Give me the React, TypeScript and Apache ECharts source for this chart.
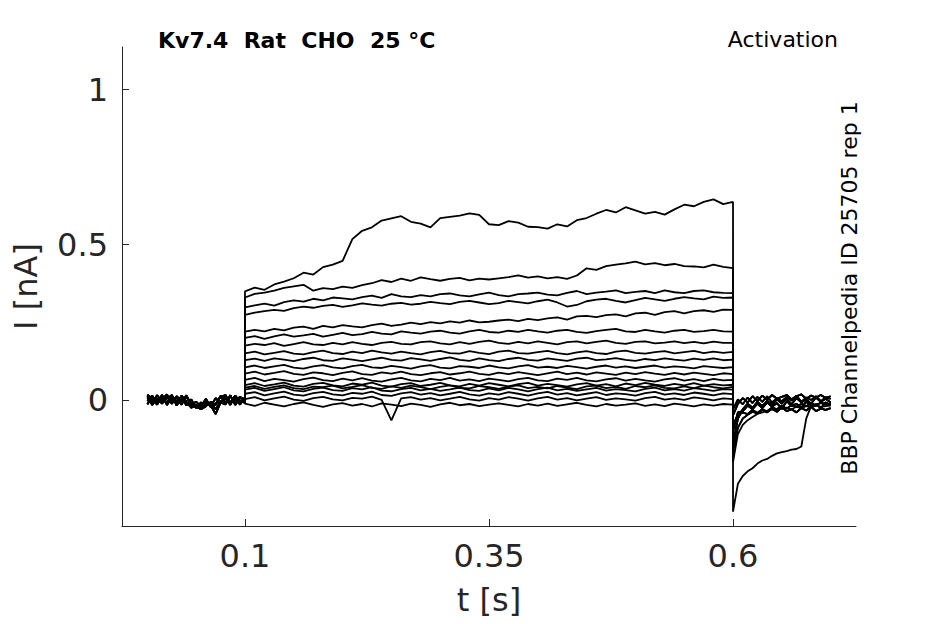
import React, { useEffect, useRef } from "react";
import * as echarts from "echarts";

const baseTimes = [0, 0.005, 0.01, 0.015, 0.02, 0.025, 0.03, 0.035, 0.04, 0.045, 0.05, 0.055, 0.06, 0.065, 0.07, 0.075, 0.08, 0.085, 0.09, 0.095, 0.1];
const stepTimes = [
  0.1, 0.11, 0.12, 0.13, 0.14, 0.15, 0.16, 0.17, 0.18, 0.19,
  0.2, 0.21, 0.22, 0.23, 0.24, 0.25, 0.26, 0.27, 0.28, 0.29,
  0.3, 0.31, 0.32, 0.33, 0.34, 0.35, 0.36, 0.37, 0.38, 0.39,
  0.4, 0.41, 0.42, 0.43, 0.44, 0.45, 0.46, 0.47, 0.48, 0.49,
  0.5, 0.51, 0.52, 0.53, 0.54, 0.55, 0.56, 0.57, 0.58, 0.59,
  0.6,
];
const tailTimes = [0.6, 0.605, 0.61, 0.615, 0.62, 0.625, 0.63, 0.635, 0.64, 0.645, 0.65, 0.655, 0.66, 0.665, 0.67, 0.675, 0.68, 0.685, 0.69, 0.695, 0.7];

const xTicks = [0.1, 0.35, 0.6];
const yTicks = [0, 0.5, 1];

// holding-period baselines (before the step)
const baseA = [0.012, -0.01, 0.015, -0.006, 0.014, -0.012, 0.008, -0.015, 0.011, -0.018, -0.022, -0.012, -0.004, -0.02, 0.006, -0.01, 0.012, -0.008, 0.014, -0.009, 0.006];
const baseB = [-0.014, 0.01, -0.008, 0.016, -0.016, 0.008, -0.012, 0.014, -0.006, -0.025, -0.016, -0.028, -0.012, -0.018, -0.045, -0.008, -0.014, 0.012, -0.007, 0.011, -0.008];
const baseC = [0.017, 0.004, -0.015, 0.01, -0.009, 0.016, -0.018, 0.007, -0.014, -0.01, -0.022, -0.03, -0.02, -0.006, -0.016, 0.013, -0.01, 0.015, -0.016, 0.008, 0.002];
const baseD = [-0.004, 0.014, -0.012, 0.003, 0.018, -0.008, 0.012, -0.004, 0.015, -0.014, -0.006, -0.02, 0.004, -0.024, -0.012, 0.01, 0.016, -0.012, 0.006, -0.015, 0.009];
const baseE = [0.008, -0.016, 0.004, -0.012, 0.006, 0.014, -0.006, 0.01, -0.018, 0.002, -0.026, -0.008, -0.018, -0.01, -0.03, -0.004, 0.004, -0.016, 0.012, -0.002, -0.01];

// step currents (0.1 .. 0.6 s)
const step1 = [
  0.35, 0.362, 0.355, 0.372, 0.381, 0.392, 0.41, 0.404, 0.428, 0.436,
  0.448, 0.518, 0.545, 0.556, 0.578, 0.585, 0.592, 0.574, 0.568, 0.556,
  0.586, 0.59, 0.594, 0.601, 0.596, 0.566, 0.563, 0.576, 0.571, 0.558,
  0.557, 0.552, 0.566, 0.559, 0.579, 0.586, 0.6, 0.612, 0.604, 0.621,
  0.611, 0.6, 0.606, 0.597, 0.614, 0.629, 0.624, 0.638, 0.646, 0.631,
  0.638,
];
const step2 = [
  0.33, 0.342, 0.346, 0.352, 0.361, 0.366, 0.371, 0.352, 0.36, 0.357,
  0.365, 0.361, 0.37, 0.376, 0.386, 0.38, 0.391, 0.384, 0.395, 0.389,
  0.384, 0.39, 0.393, 0.385, 0.391, 0.388, 0.392, 0.396, 0.401, 0.394,
  0.398, 0.392, 0.396, 0.39, 0.401, 0.424, 0.419, 0.431, 0.436, 0.44,
  0.446, 0.437, 0.441, 0.434, 0.438, 0.431, 0.43, 0.427, 0.436, 0.429,
  0.425,
];
const step3 = [
  0.298, 0.305, 0.31, 0.304, 0.315, 0.321, 0.317, 0.326, 0.321, 0.33,
  0.327, 0.324, 0.331, 0.336, 0.329, 0.341, 0.334, 0.331, 0.338, 0.334,
  0.341, 0.343, 0.337, 0.334, 0.34, 0.346, 0.338, 0.334, 0.341, 0.343,
  0.346, 0.339, 0.337, 0.345, 0.351, 0.341, 0.346, 0.349, 0.353, 0.344,
  0.348, 0.351, 0.344, 0.353, 0.347, 0.344, 0.351, 0.353, 0.347, 0.345,
  0.344,
];
const step4 = [
  0.274, 0.281, 0.286, 0.29, 0.287, 0.296, 0.301, 0.297, 0.303, 0.306,
  0.3, 0.305, 0.311, 0.307, 0.304, 0.31, 0.313, 0.307, 0.31, 0.316,
  0.312, 0.309, 0.316, 0.319, 0.314, 0.309, 0.312, 0.319, 0.315, 0.311,
  0.318, 0.323, 0.314, 0.301, 0.306, 0.318, 0.323, 0.326, 0.319, 0.314,
  0.322, 0.329, 0.324, 0.319, 0.326, 0.331, 0.327, 0.324, 0.333, 0.329,
  0.33,
];
const step5 = [
  0.22, 0.226, 0.221, 0.229, 0.224, 0.233, 0.236, 0.229, 0.239, 0.234,
  0.241, 0.237, 0.234, 0.241, 0.246, 0.239, 0.243, 0.249, 0.244, 0.251,
  0.247, 0.253, 0.249, 0.256, 0.25, 0.252, 0.256, 0.259, 0.254, 0.261,
  0.257, 0.263, 0.266, 0.259, 0.269, 0.271, 0.267, 0.273, 0.276, 0.269,
  0.279, 0.281, 0.274, 0.283, 0.286, 0.279, 0.286, 0.289, 0.284, 0.291,
  0.29,
];
const step6 = [
  0.2, 0.206, 0.197, 0.205, 0.211, 0.204, 0.208, 0.213, 0.204, 0.21,
  0.216, 0.209, 0.212, 0.219, 0.214, 0.211, 0.221, 0.217, 0.214, 0.22,
  0.223, 0.217, 0.214, 0.221, 0.226, 0.219, 0.217, 0.223, 0.219, 0.226,
  0.221, 0.217, 0.223, 0.226, 0.219, 0.216, 0.222, 0.226, 0.229, 0.221,
  0.219, 0.226, 0.221, 0.217, 0.223, 0.226, 0.219, 0.222, 0.226, 0.221,
  0.22,
];
const step7 = [
  0.175, 0.181, 0.177, 0.183, 0.174, 0.18, 0.186, 0.179, 0.177, 0.184,
  0.179, 0.186, 0.181, 0.177, 0.184, 0.187, 0.181, 0.179, 0.186, 0.189,
  0.182, 0.179, 0.186, 0.181, 0.187, 0.191, 0.184, 0.181, 0.187, 0.182,
  0.189, 0.184, 0.179, 0.186, 0.189, 0.182, 0.187, 0.191, 0.184, 0.181,
  0.187, 0.189, 0.182, 0.185, 0.189, 0.183, 0.187, 0.182, 0.188, 0.184,
  0.184,
];
const step8 = [
  0.15, 0.156, 0.147, 0.152, 0.157, 0.149, 0.147, 0.154, 0.159, 0.151,
  0.148, 0.156, 0.151, 0.159, 0.153, 0.149, 0.156, 0.151, 0.147, 0.154,
  0.158, 0.151, 0.149, 0.157, 0.152, 0.148, 0.156, 0.159, 0.151, 0.149,
  0.154, 0.158, 0.151, 0.147, 0.153, 0.157, 0.151, 0.148, 0.156, 0.159,
  0.152, 0.149, 0.154, 0.157, 0.15, 0.154, 0.158, 0.151, 0.156, 0.152,
  0.155,
];
const step9 = [
  0.128, 0.133, 0.126, 0.134, 0.13, 0.125, 0.132, 0.136, 0.128, 0.126,
  0.134, 0.13, 0.125, 0.131, 0.136, 0.129, 0.127, 0.135, 0.131, 0.126,
  0.132, 0.137, 0.129, 0.126, 0.134, 0.128, 0.125, 0.132, 0.136, 0.129,
  0.127, 0.134, 0.13, 0.126, 0.133, 0.136, 0.128, 0.131, 0.135, 0.129,
  0.126, 0.132, 0.128, 0.134, 0.13, 0.127, 0.133, 0.129, 0.134, 0.128,
  0.13,
];
const step10 = [
  0.105, 0.111, 0.103, 0.108, 0.113, 0.104, 0.101, 0.108, 0.112, 0.105,
  0.102, 0.109, 0.113, 0.105, 0.103, 0.11, 0.106, 0.101, 0.108, 0.112,
  0.104, 0.102, 0.109, 0.107, 0.103, 0.111, 0.105, 0.102, 0.108, 0.112,
  0.104, 0.107, 0.103, 0.11, 0.106, 0.101, 0.107, 0.111, 0.104, 0.108,
  0.103, 0.107, 0.111, 0.104, 0.108, 0.106, 0.102, 0.109, 0.106, 0.103,
  0.106,
];
const step11 = [
  0.085, 0.091, 0.082, 0.087, 0.093, 0.084, 0.081, 0.089, 0.086, 0.08,
  0.087, 0.092, 0.083, 0.081, 0.089, 0.085, 0.091, 0.083, 0.08, 0.086,
  0.09, 0.082, 0.086, 0.091, 0.084, 0.081, 0.088, 0.083, 0.09, 0.085,
  0.08, 0.086, 0.091, 0.083, 0.088, 0.082, 0.089, 0.085, 0.081, 0.088,
  0.083, 0.09, 0.085, 0.081, 0.087, 0.082, 0.088, 0.084, 0.08, 0.086,
  0.083,
];
const step12 = [
  0.065, 0.071, 0.061, 0.068, 0.064, 0.059, 0.067, 0.072, 0.064, 0.061,
  0.069, 0.063, 0.07, 0.062, 0.059, 0.066, 0.071, 0.063, 0.06, 0.068,
  0.064, 0.071, 0.062, 0.066, 0.061, 0.069, 0.065, 0.06, 0.067, 0.071,
  0.063, 0.061, 0.069, 0.065, 0.071, 0.063, 0.06, 0.066, 0.07, 0.062,
  0.068, 0.063, 0.059, 0.066, 0.07, 0.062, 0.067, 0.061, 0.068, 0.063,
  0.065,
];
const step13 = [
  0.048, 0.054, 0.045, 0.05, 0.056, 0.046, 0.043, 0.052, 0.055, 0.047,
  0.044, 0.053, 0.049, 0.056, 0.046, 0.043, 0.051, 0.054, 0.045, 0.049,
  0.055, 0.047, 0.044, 0.052, 0.046, 0.054, 0.049, 0.044, 0.051, 0.055,
  0.046, 0.052, 0.048, 0.043, 0.05, 0.054, 0.046, 0.051, 0.044, 0.053,
  0.048, 0.055, 0.049, 0.045, 0.052, 0.047, 0.054, 0.046, 0.051, 0.047,
  0.049,
];
const step14 = [
  0.033, 0.039, 0.029, 0.035, 0.041, 0.031, 0.028, 0.036, 0.04, 0.032,
  0.029, 0.038, 0.034, 0.041, 0.03, 0.028, 0.035, 0.039, 0.031, 0.036,
  0.029, 0.034, 0.04, 0.032, 0.029, 0.037, 0.031, 0.039, 0.034, 0.028,
  0.035, 0.04, 0.031, 0.036, 0.029, 0.034, 0.039, 0.03, 0.035, 0.032,
  0.028, 0.036, 0.04, 0.031, 0.035, 0.03, 0.038, 0.034, 0.029, 0.035,
  0.033,
];
const step15 = [
  0.02, 0.025, 0.015, 0.021, 0.027, 0.017, 0.014, 0.022, 0.026, 0.018,
  0.015, 0.023, 0.02, 0.027, 0.016, 0.013, 0.021, 0.025, 0.017, 0.022,
  0.015, 0.02, 0.026, 0.018, 0.014, 0.021, 0.017, 0.025, 0.02, 0.014,
  0.021, 0.026, 0.017, 0.022, 0.015, 0.02, 0.025, 0.016, 0.021, 0.019,
  0.014, 0.022, 0.026, 0.017, 0.021, 0.016, 0.024, 0.02, 0.015, 0.021,
  0.019,
];
const step16 = [
  0.003, 0.009, -0.001, 0.005, 0.011, 0.001, -0.003, 0.006, 0.01, 0.002,
  -0.001, 0.007, 0.004, 0.011, 0.0, -0.066, 0.005, 0.009, 0.001, 0.006,
  -0.001, 0.004, 0.01, 0.002, -0.002, 0.006, 0.001, 0.009, 0.004, -0.002,
  0.005, 0.01, 0.001, 0.006, -0.001, 0.004, 0.009, 0.0, 0.005, 0.002,
  -0.002, 0.006, 0.01, 0.001, 0.005, 0.0, 0.008, 0.004, -0.001, 0.005,
  0.003,
];
const step17 = [
  -0.012, -0.019, -0.009, -0.015, -0.021, -0.013, -0.008, -0.016, -0.022, -0.014,
  -0.01, -0.018, -0.013, -0.021, -0.011, -0.015, -0.02, -0.012, -0.016, -0.022,
  -0.014, -0.009, -0.017, -0.013, -0.02, -0.015, -0.011, -0.016, -0.021, -0.013,
  -0.018, -0.012, -0.019, -0.014, -0.009, -0.016, -0.021, -0.013, -0.018, -0.015,
  -0.011, -0.019, -0.014, -0.02, -0.012, -0.016, -0.021, -0.014, -0.018, -0.013,
  -0.015,
];
const step18 = [
  0.04, 0.045, 0.036, 0.042, 0.047, 0.038, 0.035, 0.043, 0.041, 0.046,
  0.037, 0.042, 0.048, 0.039, 0.036, 0.044, 0.039, 0.046, 0.041, 0.035,
  0.042, 0.047, 0.039, 0.037, 0.045, 0.041, 0.036, 0.043, 0.047, 0.038,
  0.042, 0.037, 0.045, 0.04, 0.035, 0.044, 0.046, 0.038, 0.042, 0.036,
  0.045, 0.041, 0.047, 0.039, 0.037, 0.044, 0.038, 0.046, 0.041, 0.037,
  0.042,
];

// tail currents (0.6 .. 0.7 s)
const tail1 = [-0.36, -0.27, -0.245, -0.23, -0.22, -0.205, -0.195, -0.19, -0.18, -0.172, -0.168, -0.165, -0.16, -0.158, -0.15, -0.06, -0.02, -0.015, -0.01, -0.015, -0.01];
const tail2 = [-0.2, -0.11, -0.08, -0.065, -0.055, -0.045, -0.04, -0.035, -0.03, -0.032, -0.028, -0.025, -0.03, -0.022, -0.026, -0.02, -0.024, -0.018, -0.022, -0.02, -0.018];
const tailA = [-0.14, -0.06, -0.03, -0.012, -0.025, -0.006, -0.02, -0.002, -0.016, 0.002, -0.012, 0.004, -0.014, 0.006, -0.008, 0.002, -0.012, 0.008, -0.006, 0.004, -0.008];
const tailB = [-0.1, -0.04, -0.036, -0.018, -0.03, -0.012, -0.026, -0.008, -0.022, -0.01, -0.028, -0.004, -0.02, -0.012, -0.024, -0.006, -0.018, -0.014, -0.026, -0.008, -0.016];
const tailC = [-0.05, -0.012, 0.006, -0.008, 0.012, -0.004, 0.014, 0.0, 0.016, 0.004, 0.01, 0.016, 0.002, 0.012, 0.018, 0.004, 0.014, 0.008, 0.016, 0.006, 0.012];
const tailD = [-0.08, -0.048, -0.04, -0.046, -0.032, -0.042, -0.03, -0.04, -0.028, -0.038, -0.024, -0.036, -0.03, -0.04, -0.026, -0.034, -0.022, -0.036, -0.028, -0.032, -0.026];
const tailE = [-0.17, -0.09, -0.06, -0.048, -0.038, -0.044, -0.032, -0.036, -0.024, -0.03, -0.018, -0.028, -0.016, -0.022, -0.012, -0.02, -0.01, -0.018, -0.008, -0.014, -0.012];
const tailF = [-0.03, 0.002, -0.014, 0.008, -0.01, 0.01, -0.006, 0.012, -0.008, 0.006, -0.004, 0.01, -0.002, 0.014, -0.006, 0.008, 0.0, 0.012, -0.004, 0.009, 0.003];

const traces = [
  [baseA, step1, tail1],
  [baseB, step2, tail2],
  [baseC, step3, tailE],
  [baseD, step4, tailA],
  [baseE, step5, tailB],
  [baseA, step6, tailC],
  [baseB, step7, tailD],
  [baseC, step8, tailF],
  [baseD, step9, tailE],
  [baseE, step10, tailA],
  [baseA, step11, tailB],
  [baseB, step12, tailC],
  [baseC, step13, tailD],
  [baseD, step14, tailF],
  [baseE, step15, tailA],
  [baseA, step16, tailB],
  [baseB, step17, tailD],
  [baseC, step18, tailC],
];

const FONT = "DejaVu Sans";
const AX = "#262626";

function buildData(base: number[], step: number[], tail: number[]) {
  const d: number[][] = [];
  base.forEach((v, i) => d.push([baseTimes[i], v]));
  step.forEach((v, i) => d.push([stepTimes[i], v]));
  tail.forEach((v, i) => d.push([tailTimes[i], v]));
  return d;
}

export default function App() {
  const ref = useRef<HTMLDivElement>(null);
  useEffect(() => {
    if (!ref.current) return;
    const chart = echarts.init(ref.current, null, { renderer: "svg" });
    const series = traces.map((t, i) => ({
      type: "line",
      name: "trace" + (i + 1),
      data: buildData(t[0], t[1], t[2]),
      showSymbol: false,
      symbol: "none",
      silent: true,
      lineStyle: { color: "#000", width: 1.8 },
    }));
    chart.setOption({
      animation: false,
      backgroundColor: "#fff",
      grid: { left: 122, right: 89, top: 47, bottom: 98, containLabel: false },
      xAxis: {
        type: "value",
        min: -0.026,
        max: 0.726,
        name: "t [s]",
        nameLocation: "middle",
        nameGap: 58,
        nameTextStyle: { fontFamily: FONT, fontSize: 32, color: AX },
        axisLine: { show: true, onZero: false, lineStyle: { color: AX, width: 1 } },
        axisTick: { show: true, inside: true, length: 7, customValues: xTicks, lineStyle: { color: AX } },
        axisLabel: { customValues: xTicks, fontFamily: FONT, fontSize: 32, color: AX, margin: 14, formatter: (v: number) => String(v) },
        splitLine: { show: false },
      },
      yAxis: {
        type: "value",
        min: -0.406,
        max: 1.137,
        name: "I [nA]",
        nameLocation: "middle",
        nameRotate: 90,
        nameGap: 80,
        nameTextStyle: { fontFamily: FONT, fontSize: 32, color: AX },
        axisLine: { show: true, onZero: false, lineStyle: { color: AX, width: 1 } },
        axisTick: { show: true, inside: true, length: 7, customValues: yTicks, lineStyle: { color: AX } },
        axisLabel: { customValues: yTicks, fontFamily: FONT, fontSize: 32, color: AX, margin: 14, formatter: (v: number) => String(v) },
        splitLine: { show: false },
      },
      graphic: [
        {
          type: "text",
          x: 158,
          y: 40,
          style: { text: "Kv7.4  Rat  CHO  25 °C", font: `bold 22px "${FONT}"`, fill: "#000", textAlign: "left", textVerticalAlign: "middle" },
        },
        {
          type: "text",
          x: 838,
          y: 39,
          style: { text: "Activation", font: `22px "${FONT}"`, fill: "#000", textAlign: "right", textVerticalAlign: "middle" },
        },
        {
          type: "text",
          x: 849,
          y: 288,
          rotation: Math.PI / 2,
          style: { text: "BBP Channelpedia ID 25705 rep 1", font: `22px "${FONT}"`, fill: "#000", textAlign: "center", textVerticalAlign: "middle" },
        },
      ],
      series,
    });
    return () => chart.dispose();
  }, []);
  return <div ref={ref} style={{ position: "fixed", left: 0, top: 0, width: 945, height: 624 }} />;
}
